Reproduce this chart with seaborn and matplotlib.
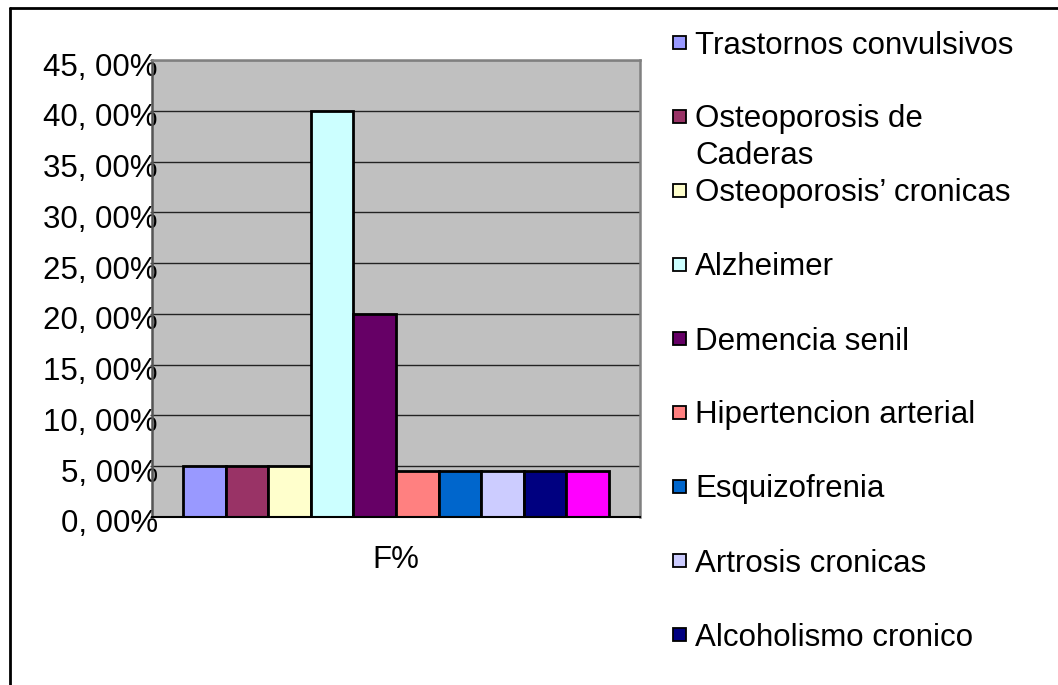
import pandas as pd
import seaborn as sns
import matplotlib.pyplot as plt
from matplotlib.patches import Rectangle
from matplotlib.lines import Line2D
from matplotlib.ticker import FuncFormatter, MultipleLocator
from matplotlib.transforms import ScaledTranslation

# Data
grupo = ["F%"]
enfermedades = [
    "Trastornos convulsivos", "Osteoporosis de\nCaderas", "Osteoporosis\u2019 cronicas",
    "Alzheimer", "Demencia senil", "Hipertencion arterial", "Esquizofrenia",
    "Artrosis cronicas", "Alcoholismo cronico", "Otros",
]
porcentajes = [5.0, 5.0, 5.0, 40.0, 20.0, 4.5, 4.5, 4.5, 4.5, 4.5]
colores = ["#9999FF", "#993366", "#FFFFCC", "#CCFFFF", "#660066",
           "#FF8080", "#0066CC", "#CCCCFF", "#000080", "#FF00FF"]
n_leyenda = 9  # only nine entries fit in the legend box

df = pd.DataFrame({"grupo": grupo * len(enfermedades),
                   "enfermedad": enfermedades,
                   "valor": porcentajes})

sns.set_style("white")
plt.rcParams['font.family'] = ['Liberation Sans', 'DejaVu Sans']
plt.rcParams['text.color'] = 'black'
plt.rcParams['xtick.color'] = 'black'
plt.rcParams['ytick.color'] = 'black'

W, H = 1058, 685
fig = plt.figure(figsize=(W / 100, H / 100), dpi=100)
ax = fig.add_axes([152 / W, 1 - 517 / H, (640 - 152) / W, (517 - 60) / H])
ax.set_facecolor("#C0C0C0")

sns.barplot(data=df, x="grupo", y="valor", hue="enfermedad", palette=colores,
            saturation=1, width=0.871, edgecolor="black", linewidth=2,
            legend=False, ax=ax)

ax.set_xlim(-0.5, 0.5)
ax.set_ylim(0, 45)
ax.yaxis.set_major_locator(MultipleLocator(5))
ax.yaxis.set_major_formatter(FuncFormatter(lambda v, _: f"{v:.2f}".replace(".", ", ") + "%"))
ax.grid(axis="y", color="#222222", linewidth=1.0)
ax.set_axisbelow(True)
ax.set_xlabel("")
ax.set_ylabel("")

ax.tick_params(axis="y", labelsize=22.5, length=1.5, width=1, color="#333333",
               labelcolor="black", pad=-5.8, left=True)
ax.tick_params(axis="x", labelsize=22.5, length=0, pad=20, labelcolor="black")
off = ScaledTranslation(0, -4 / 100, fig.dpi_scale_trans)
for lab in ax.get_yticklabels():
    lab.set_transform(lab.get_transform() + off)
    lab.set_zorder(5)

for side in ["top", "right", "left"]:
    ax.spines[side].set_color("#808080")
    ax.spines[side].set_linewidth(1.8)
ax.spines["left"].set_color("#555555")
ax.spines["bottom"].set_color("black")
ax.spines["bottom"].set_linewidth(1.5)

# legend drawn by hand so rows keep the same spacing
for i in range(n_leyenda):
    yc = 42 + 74 * i
    fig.patches.append(Rectangle((673 / W, 1 - (yc + 7) / H), 13 / W, 13 / H,
                                 facecolor=colores[i], edgecolor="black",
                                 linewidth=1.3, transform=fig.transFigure, figure=fig))
    fig.text(695 / W, 1 - (yc - 11.5) / H, enfermedades[i], fontsize=22.5,
             va="top", ha="left", linespacing=1.3, color="black")

# outer frame (only top and left edges are visible)
fig.add_artist(Line2D([9.5 / W, 9.5 / W], [0, 1 - 8 / H], color="black", linewidth=2))
fig.add_artist(Line2D([9.5 / W, 1], [1 - 8 / H, 1 - 8 / H], color="black", linewidth=2))

fig.savefig("out.png", dpi=100)
